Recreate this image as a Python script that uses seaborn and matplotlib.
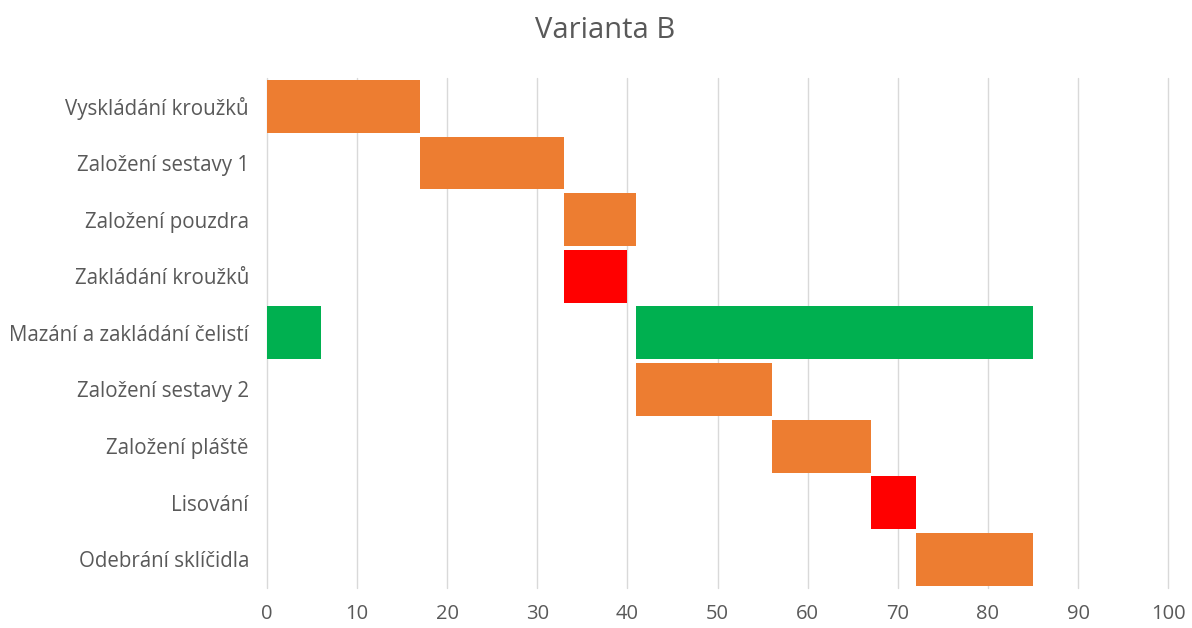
import pandas as pd
import seaborn as sns
import matplotlib.pyplot as plt

# úlohy (odshora dolů)
ulohy = ['Vyskládání kroužků', 'Založení sestavy 1', 'Založení pouzdra',
         'Zakládání kroužků', 'Mazání a zakládání čelistí', 'Založení sestavy 2',
         'Založení pláště', 'Lisování', 'Odebrání sklíčidla']

# jednotlivé úseky: úloha, začátek, trvání, typ
useky_uloha = ['Vyskládání kroužků', 'Založení sestavy 1', 'Založení pouzdra',
               'Zakládání kroužků', 'Mazání a zakládání čelistí',
               'Mazání a zakládání čelistí', 'Založení sestavy 2',
               'Založení pláště', 'Lisování', 'Odebrání sklíčidla']
useky_zacatek = [0, 17, 33, 33, 0, 41, 41, 56, 67, 72]
useky_trvani = [17, 16, 8, 7, 6, 44, 15, 11, 5, 13]
useky_typ = ['oranzova', 'oranzova', 'oranzova', 'cervena', 'zelena',
             'zelena', 'oranzova', 'oranzova', 'cervena', 'oranzova']

barvy = {'oranzova': '#ED7D31', 'cervena': '#FF0000', 'zelena': '#00B050'}
osa_x = list(range(0, 101, 10))

df = pd.DataFrame({'Uloha': useky_uloha, 'Zacatek': useky_zacatek,
                   'Trvani': useky_trvani, 'Typ': useky_typ})

sns.set_style('white')
plt.rcParams['font.family'] = ['Open Sans', 'DejaVu Sans']

fig = plt.figure(figsize=(11.92, 6.28), dpi=100)
ax = fig.add_axes([0.224, 0.064, 0.756, 0.812])

for _, r in df.iterrows():
    sns.barplot(x=[r['Trvani']], y=[r['Uloha']], order=ulohy, left=r['Zacatek'],
                color=barvy[r['Typ']], width=0.93, linewidth=0, saturation=1,
                orient='h', ax=ax)

ax.set_xlim(0, 100)
ax.set_ylim(len(ulohy) - 0.5, -0.5)
ax.set_xticks(osa_x)
ax.set_xticklabels([str(v) for v in osa_x])
ax.grid(axis='x', color='#d9d9d9', linewidth=1)
for g in ax.get_xgridlines():
    g.set_clip_on(False)
ax.set_axisbelow(True)
for s in ax.spines.values():
    s.set_visible(False)
ax.tick_params(axis='both', length=0, labelcolor='#595959')
ax.tick_params(axis='y', pad=13, labelsize=14.8)
ax.tick_params(axis='x', pad=12, labelsize=14.5)
ax.set_xlabel('')
ax.set_ylabel('')

fig.suptitle('Varianta B', x=0.508, y=0.975, fontsize=21, color='#595959')

fig.savefig('out.png', dpi=100)
